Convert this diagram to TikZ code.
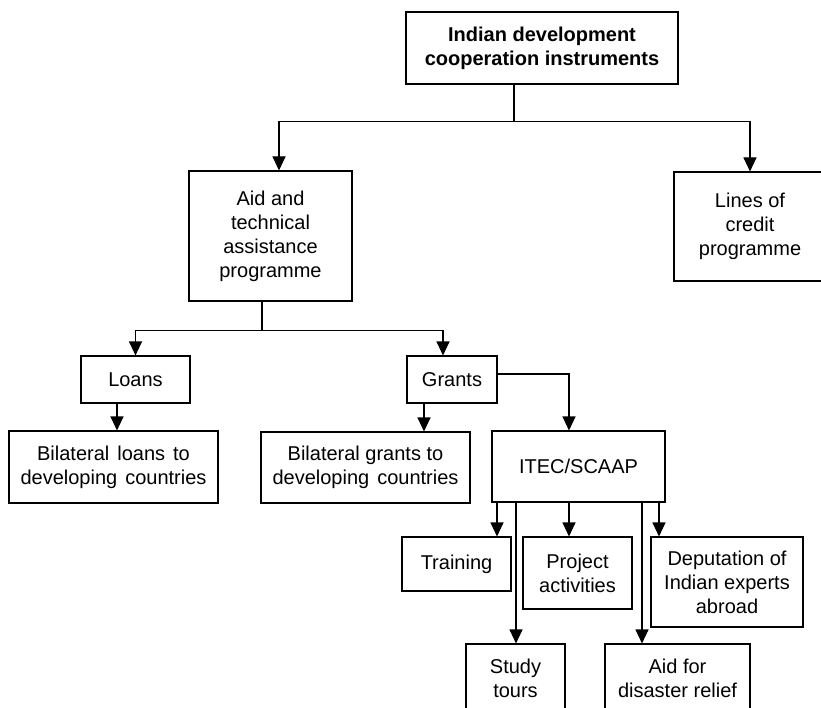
\documentclass[tikz,border=0pt]{standalone}
\usepackage{fontspec}
\setmainfont{Liberation Sans}
\usetikzlibrary{arrows.meta}

\tikzset{
  box/.style={draw, line width=1.1pt, align=center, inner sep=0pt,
    font=\fontsize{20}{24}\selectfont},
  arr/.style={line width=1.1pt, -{Triangle[length=14pt,width=13pt]}}
}

\begin{document}
\begin{tikzpicture}[x=1pt, y=-1pt]
          \useasboundingbox (0,0) rectangle (821,708);

          \node[box, minimum width=272pt, minimum height=72pt, font=\fontsize{20}{24}\selectfont\bfseries] (top) at (542,48) {Indian development\\cooperation instruments};
          \node[box, minimum width=163pt, minimum height=130pt] (aid) at (270.5,236) {Aid and\\technical\\assistance\\programme};
          \node[box, minimum width=152pt, minimum height=109pt] (credit) at (750,226.5) {Lines of\\credit\\programme};

          \node[box, minimum width=109pt, minimum height=47pt] (loans) at (135.5,379.5) {Loans};
          \node[box, minimum width=90pt, minimum height=47pt] (grants) at (452,379.5) {Grants};
          \node[box, minimum width=209pt, minimum height=72pt] (bloans) at (113.5,467) {Bilateral\hspace{8pt}loans\hspace{8pt}to\\developing\hspace{8pt}countries};
          \node[box, minimum width=209pt, minimum height=71pt] (bgrants) at (365.5,467.5) {Bilateral grants to\\developing\hspace{8pt}countries};
          \node[box, minimum width=173pt, minimum height=71pt] (itec) at (578.5,466.5) {ITEC/SCAAP};

          \node[box, minimum width=109pt, minimum height=54pt] (train) at (456.5,564) {Training};
          \node[box, minimum width=109pt, minimum height=72pt] (project) at (577.5,573) {Project\\activities};
          \node[box, minimum width=152pt, minimum height=90pt] (deput) at (727,582) {Deputation of\\Indian experts\\abroad};
          \node[box, minimum width=99pt, minimum height=68pt] (study) at (515.5,678) {Study\\tours};
          \node[box, minimum width=145pt, minimum height=68pt] (relief) at (677.5,678) {Aid for\\disaster relief};

          \draw[arr] ([xshift=-28pt]top.south) -- ++(0,37) -| ([xshift=8.5pt]aid.north);
          \draw[arr] ([xshift=-28pt]top.south) -- ++(0,37) -| (credit.north);

          \draw[arr] ([xshift=-8.5pt]aid.south) -- ++(0,29) -| (loans.north);
          \draw[arr] ([xshift=-8.5pt]aid.south) -- ++(0,29) -| ([xshift=-9pt]grants.north);

          \draw[arr] ([xshift=-18.5pt]loans.south) -- ([xshift=-18.5pt]loans.south |- bloans.north);
          \draw[arr] ([xshift=-28pt]grants.south) -- ([xshift=-28pt]grants.south |- bgrants.north);
          \draw[arr] ([yshift=5.5pt]grants.east) -| ([xshift=-9.5pt]itec.north);

          \draw[arr] ([xshift=-81.5pt]itec.south) -- ([xshift=-81.5pt]itec.south |- train.north);
          \draw[arr] ([xshift=-62.5pt]itec.south) -- ([xshift=-62.5pt]itec.south |- study.north);
          \draw[arr] ([xshift=-9.5pt]itec.south) -- ([xshift=-9.5pt]itec.south |- project.north);
          \draw[arr] ([xshift=63.5pt]itec.south) -- ([xshift=63.5pt]itec.south |- relief.north);
          \draw[arr] ([xshift=80.5pt]itec.south) -- ([xshift=80.5pt]itec.south |- deput.north);

\end{tikzpicture}
\end{document}
